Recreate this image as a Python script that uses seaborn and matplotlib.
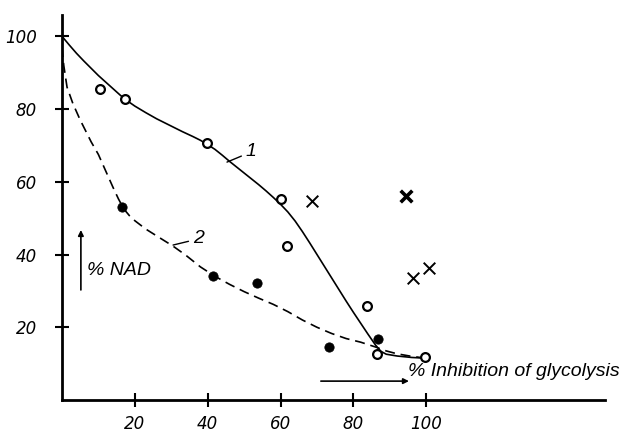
import matplotlib
matplotlib.use("Agg")
import matplotlib.pyplot as plt
import pandas as pd
import seaborn as sns

# curve 1 (solid)
curve1_x = [0, 2, 4, 6, 8, 10, 12, 14, 16, 18, 20, 23, 26, 30, 33, 36, 38, 40, 42, 44, 46,
            48, 50, 52, 54, 56, 58, 60, 62, 64, 66, 68, 70, 72, 74, 76, 78, 80, 82, 84, 86,
            87.5, 89, 92, 96, 100]
curve1_y = [100, 97.6, 95.3, 93.2, 91.2, 89.2, 87.4, 85.6, 83.8, 82.2, 80.8, 79, 77.3, 75.3,
            73.8, 72.4, 71.4, 70.2, 68.9, 67.3, 65.6, 64, 62.4, 60.8, 59.2, 57.5, 55.7, 53.8,
            51.7, 49.2, 46.3, 43.2, 40, 36.8, 33.6, 30.4, 27.2, 24.1, 21.1, 18.1, 15.2, 13.4,
            12.6, 12.1, 11.7, 11.5]

# curve 2 (dashed)
curve2_x = [0, 0.5, 1.4, 3, 5, 8, 10, 12, 14, 15.5, 17, 18.5, 20, 23, 26.5, 30.5, 34, 38,
            42, 46, 50, 54, 58, 62, 66, 70, 74, 78, 82, 86, 89, 92, 96, 100]
curve2_y = [97, 92, 86, 81.5, 77, 71, 67.5, 63, 58.5, 55.3, 52.5, 50.7, 49.3, 47, 44.8,
            42.3, 39.8, 36.6, 34, 31.8, 29.8, 28, 26.3, 24.3, 22, 20, 18.3, 16.9, 15.9,
            14.6, 13.5, 12.7, 12, 11.5]

open_x = [10.4, 17.3, 39.8, 60.2, 61.8, 83.8, 86.5, 99.7]
open_y = [85.4, 82.7, 70.6, 55.2, 42.3, 25.8, 12.6, 11.8]

filled_x = [16.5, 41.5, 53.6, 73.4, 86.8]
filled_y = [53.0, 34.1, 32.1, 14.6, 16.8]

cross_x = [68.7, 96.4, 100.8]
cross_y = [54.7, 33.5, 36.3]
bold_cross_x = [94.5]
bold_cross_y = [56.0]

ticks = [20, 40, 60, 80, 100]

sns.set_style("ticks")
plt.rcParams["font.family"] = ["Liberation Sans", "DejaVu Sans"]
plt.rcParams.update({"font.style": "italic", "text.color": "black",
                     "xtick.color": "black", "ytick.color": "black",
                     "axes.edgecolor": "black"})

fig = plt.figure(figsize=(6.32, 4.32), dpi=100)
ax = fig.add_axes([0.098, 0.074, 0.859, 0.891])

c1 = pd.DataFrame({"x": curve1_x, "y": curve1_y})
c2 = pd.DataFrame({"x": curve2_x, "y": curve2_y})

sns.lineplot(data=c1, x="x", y="y", color="black", linewidth=1.2, sort=False, ax=ax)
sns.lineplot(data=c2, x="x", y="y", color="black", linewidth=1.2, sort=False,
             linestyle=(0, (6, 3.5)), ax=ax)

sns.scatterplot(x=open_x, y=open_y, marker="o", s=40, facecolor="white",
                edgecolor="black", linewidth=1.6, ax=ax, zorder=3)
sns.scatterplot(x=filled_x, y=filled_y, marker="o", s=45, color="black",
                edgecolor="black", ax=ax, zorder=3)
sns.scatterplot(x=cross_x, y=cross_y, marker="x", s=70, color="black",
                linewidth=1.4, ax=ax, zorder=3)
sns.scatterplot(x=bold_cross_x, y=bold_cross_y, marker="x", s=70, color="black",
                linewidth=2.6, ax=ax, zorder=3)

ax.set_xlim(0, 149)
ax.set_ylim(0, 105.8)
ax.set_xticks(ticks)
ax.set_yticks(ticks)
ax.set_xticklabels([str(t) for t in ticks], family="DejaVu Sans", fontstyle="italic",
                   fontsize=12)
ax.set_yticklabels([str(t) for t in ticks], family="DejaVu Sans", fontstyle="italic",
                   fontsize=12)
ax.tick_params(direction="inout", length=10, width=1.5, color="black")
ax.tick_params(axis="y", pad=13)
ax.tick_params(axis="x", pad=6)
ax.set_xlabel("")
ax.set_ylabel("")
for side in ["top", "right"]:
    ax.spines[side].set_visible(False)
for side in ["left", "bottom"]:
    ax.spines[side].set_linewidth(2)
    ax.spines[side].set_color("black")

# curve labels with leader lines
ax.annotate("1", xy=(45.3, 65.4), xytext=(50.5, 68.2), fontsize=14, fontstyle="italic",
            va="center", ha="left",
            arrowprops=dict(arrowstyle="-", color="black", lw=1, shrinkA=1, shrinkB=0))
ax.annotate("2", xy=(30.5, 42.6), xytext=(36.0, 44.3), fontsize=14, fontstyle="italic",
            va="center", ha="left",
            arrowprops=dict(arrowstyle="-", color="black", lw=1, shrinkA=1, shrinkB=0))

# axis captions with arrows
ax.annotate("", xy=(5.2, 47.5), xytext=(5.2, 29.5),
            arrowprops=dict(arrowstyle="-|>", color="black", lw=1.2, mutation_scale=8))
ax.text(6.8, 35.5, "% NAD", fontsize=14, fontstyle="italic", va="center", ha="left")

ax.annotate("", xy=(96.0, 5.2), xytext=(70.3, 5.2),
            arrowprops=dict(arrowstyle="-|>", color="black", lw=1.2, mutation_scale=8))
ax.text(95.0, 7.8, "% Inhibition of glycolysis", fontsize=14, fontstyle="italic",
        va="center", ha="left")

fig.savefig("out.png", dpi=100)
